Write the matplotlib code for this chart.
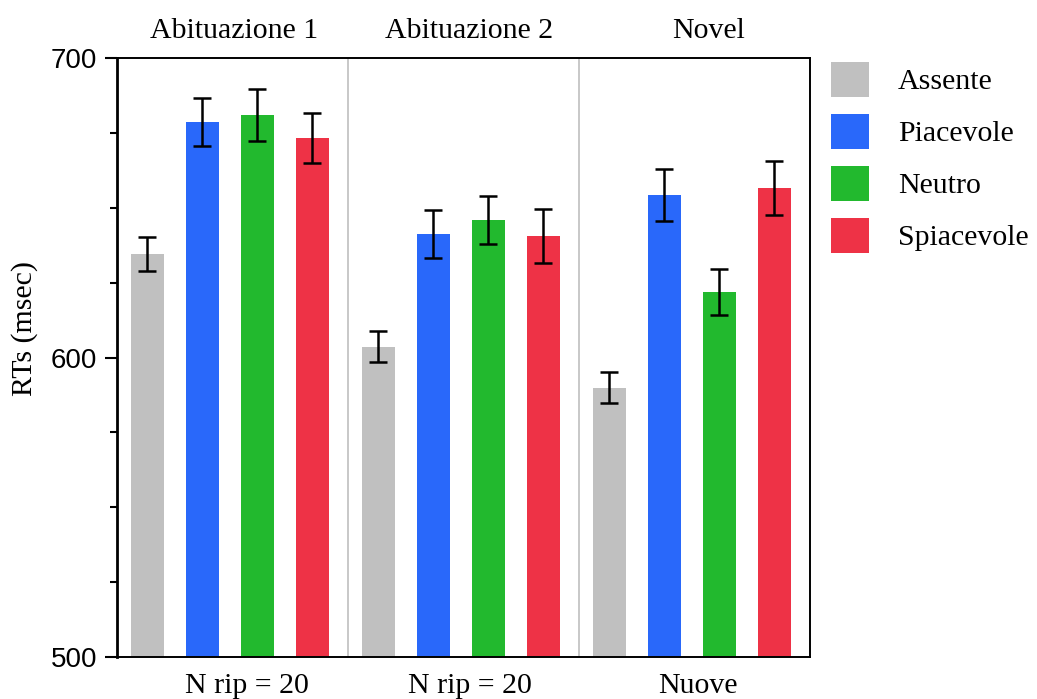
import numpy as np
import matplotlib
matplotlib.use('Agg')
import matplotlib.pyplot as plt
from matplotlib.patches import Patch
from matplotlib.ticker import MultipleLocator

groups = ['Abituazione 1', 'Abituazione 2', 'Novel']
bottom_labels = ['N rip = 20', 'N rip = 20', 'Nuove']
conditions = ['Assente', 'Piacevole', 'Neutro', 'Spiacevole']
colors = ['#c0c0c0', '#2968fa', '#22b92e', '#ee3246']

# mean RT per group, one list per condition
assente = [634.5, 603.6, 589.9]
piacevole = [678.7, 641.1, 654.4]
neutro = [680.9, 646.0, 621.8]
spiacevole = [673.2, 640.5, 656.5]
means = [assente, piacevole, neutro, spiacevole]

err_assente = [5.6, 5.2, 5.2]
err_piacevole = [8.0, 8.0, 8.7]
err_neutro = [8.6, 8.0, 7.6]
err_spiacevole = [8.3, 9.0, 9.0]
errs = [err_assente, err_piacevole, err_neutro, err_spiacevole]

serif = 'Liberation Serif'
sans = 'Liberation Sans'
fs = 21.5

fig = plt.figure(figsize=(10.37, 6.99), dpi=100)
ax = fig.add_axes([117/1037, 1 - 657/699, (810-117)/1037, (657-58)/699])

group_w = 4.2
first = 0.55
step = 1.0
width = 0.6

for j, (vals, ev, c) in enumerate(zip(means, errs, colors)):
    xs = np.arange(len(groups)) * group_w + first + j * step
    ax.bar(xs, np.array(vals) - 500, bottom=500, width=width, color=c,
           edgecolor='none', zorder=2)
    ax.errorbar(xs, vals, yerr=ev, fmt='none', ecolor='black',
                elinewidth=1.8, capsize=6.5, capthick=1.8, zorder=3)

for g in range(1, len(groups)):
    ax.axvline(g * group_w, color='#c4c4c4', lw=1.3, zorder=1)

ax.set_xlim(0, group_w * len(groups))
ax.set_ylim(500, 700)
ax.set_xticks([])
ax.set_yticks([500, 600, 700])
ax.yaxis.set_minor_locator(MultipleLocator(25))
ax.tick_params(axis='y', which='major', length=9, width=1.5, direction='out',
               labelsize=20, pad=5.5)
ax.tick_params(axis='y', which='minor', length=5, width=1.5, direction='out')
for lab in ax.get_yticklabels():
    lab.set_fontfamily(sans)
for s in ax.spines.values():
    s.set_linewidth(1.4)
    s.set_color('black')
ax.spines['left'].set_linewidth(2)

fig.text(25/1037, 1 - 328/699, 'RTs (msec)', rotation=90, ha='center', va='center',
         fontfamily=serif, fontsize=fs)

title_off = [0.02, 0.11, 0.25]
bottom_off = [0.27, 0.11, 0.07]
for g, (t, b) in enumerate(zip(groups, bottom_labels)):
    cx = g * group_w + group_w / 2
    ax.text(cx + title_off[g], 1.033, t, transform=ax.get_xaxis_transform(),
            ha='center', va='baseline', fontfamily=serif, fontsize=fs)
    ax.text(cx + bottom_off[g], -0.060, b, transform=ax.get_xaxis_transform(),
            ha='center', va='baseline', fontfamily=serif, fontsize=fs)

handles = [Patch(facecolor=c, edgecolor='none', label=n) for c, n in zip(colors, conditions)]
fig.legend(handles=handles, loc='upper left', bbox_to_anchor=(831/1037, 1 - 62/699),
           frameon=False, prop={'family': serif, 'size': fs},
           borderpad=0, borderaxespad=0,
           handlelength=1.27, handleheight=1.42, labelspacing=0.57, handletextpad=0.97)

fig.savefig('out.png', dpi=100)
